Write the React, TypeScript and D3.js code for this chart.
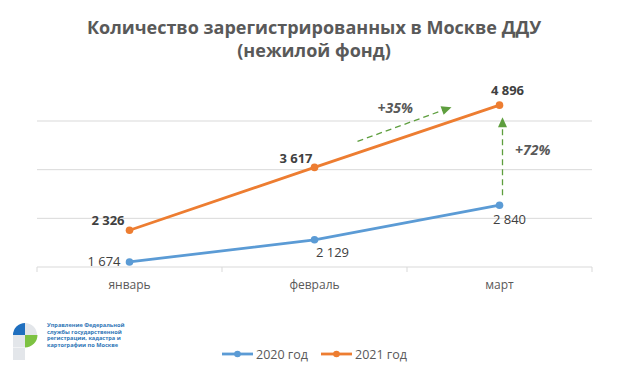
import React from "react";
import * as d3 from "d3";

const categories = ["январь", "февраль", "март"];
const series2020 = [1674, 2129, 2840];
const series2021 = [2326, 3617, 4896];
const seriesNames = ["2020 год", "2021 год"];
const gridValues = [1570, 2570, 3570, 4570];
const growthLabels = ["+35%", "+72%"];
const titleLines = ["Количество зарегистрированных в Москве ДДУ", "(нежилой фонд)"];
const logoLines = [
  "Управление Федеральной",
  "службы государственной",
  "регистрации, кадастра и",
  "картографии по Москве",
];

const W = 625;
const H = 375;
const BLUE = "#5B9BD5";
const ORANGE = "#ED7D31";
const GREEN = "#5E9E3E";
const TEXT = "#595959";
const LABEL = "#404040";
const FONT = "'Open Sans', 'Noto Sans', sans-serif";

export default function App() {
  const x = d3.scaleBand().domain(categories).range([37, 592]);
  const cx = (c: string) => (x(c) as number) + x.bandwidth() / 2;
  const y = d3.scaleLinear().domain([1570, 4570]).range([267, 121]);

  const line = d3
    .line<number>()
    .x((_, i) => cx(categories[i]))
    .y((d) => y(d));

  const tickXs = [...categories.map((c) => x(c) as number), 592];

  const lab2021: [number, number, string][] = [
    [-5, -5, "end"],
    [-2, -4, "end"],
    [8, -10, "middle"],
  ];
  const lab2020: [number, number, string][] = [
    [-9, 4, "end"],
    [18, 17, "middle"],
    [10, 19, "middle"],
  ];

  const a1 = { x1: cx(categories[1]) + 43, y1: y(series2021[1]) - 26, x2: cx(categories[2]) - 48, y2: y(series2021[2]) + 2 };
  const a2 = { x1: cx(categories[2]) + 3, y1: y(series2020[2]) - 10, x2: cx(categories[2]) + 3, y2: y(series2021[2]) + 12 };

  const arrowHead = (x1: number, y1: number, x2: number, y2: number) => {
    const ang = Math.atan2(y2 - y1, x2 - x1);
    const L = 10;
    const w = 4.5;
    const bx = x2 - L * Math.cos(ang);
    const by = y2 - L * Math.sin(ang);
    const px = -Math.sin(ang) * w;
    const py = Math.cos(ang) * w;
    return `M${x2},${y2}L${bx + px},${by + py}L${bx - px},${by - py}Z`;
  };
  const shorten = (x1: number, y1: number, x2: number, y2: number, d: number) => {
    const ang = Math.atan2(y2 - y1, x2 - x1);
    return [x2 - d * Math.cos(ang), y2 - d * Math.sin(ang)];
  };
  const a1e = shorten(a1.x1, a1.y1, a1.x2, a1.y2, 8);
  const a2e = shorten(a2.x1, a2.y1, a2.x2, a2.y2, 8);

  return (
    <svg width={W} height={H} style={{ position: "absolute", left: 0, top: 0, background: "#fff" }} fontFamily={FONT}>
      <rect width={W} height={H} fill="#fff" />
      {titleLines.map((t, i) => (
        <text key={i} x={314} y={34 + i * 23} textAnchor="middle" fontSize={18} fontWeight="bold" fill={TEXT}>
          {t}
        </text>
      ))}
      {gridValues.slice(1).map((v) => (
        <line key={v} x1={37} x2={592} y1={y(v)} y2={y(v)} stroke="#D9D9D9" strokeWidth={1} />
      ))}
      <line x1={37} x2={592} y1={y(gridValues[0])} y2={y(gridValues[0])} stroke="#D9D9D9" strokeWidth={1} />
      {tickXs.map((t, i) => (
        <line key={i} x1={t} x2={t} y1={y(gridValues[0])} y2={y(gridValues[0]) + 5} stroke="#D9D9D9" strokeWidth={1} />
      ))}
      {categories.map((c) => (
        <text key={c} x={cx(c)} y={289} textAnchor="middle" fontSize={12} fill={TEXT}>
          {c}
        </text>
      ))}
      <path d={line(series2020) || ""} fill="none" stroke={BLUE} strokeWidth={2.8} strokeLinecap="round" />
      <path d={line(series2021) || ""} fill="none" stroke={ORANGE} strokeWidth={2.8} strokeLinecap="round" />
      {series2020.map((v, i) => (
        <circle key={"b" + i} cx={cx(categories[i])} cy={y(v)} r={3.8} fill={BLUE} />
      ))}
      {series2021.map((v, i) => (
        <circle key={"o" + i} cx={cx(categories[i])} cy={y(v)} r={3.8} fill={ORANGE} />
      ))}
      {series2021.map((v, i) => (
        <text
          key={"lo" + i}
          x={cx(categories[i]) + lab2021[i][0]}
          y={y(v) + lab2021[i][1]}
          textAnchor={lab2021[i][2] as any}
          fontSize={13}
          fontWeight="bold"
          fill={LABEL}
        >
          {d3.format(",")(v).replace(",", " ")}
        </text>
      ))}
      {series2020.map((v, i) => (
        <text
          key={"lb" + i}
          x={cx(categories[i]) + lab2020[i][0]}
          y={y(v) + lab2020[i][1]}
          textAnchor={lab2020[i][2] as any}
          fontSize={13}
          fill={LABEL}
        >
          {d3.format(",")(v).replace(",", " ")}
        </text>
      ))}
      <line x1={a1.x1} y1={a1.y1} x2={a1e[0]} y2={a1e[1]} stroke={GREEN} strokeWidth={1.3} strokeDasharray="6,4" />
      <path d={arrowHead(a1.x1, a1.y1, a1.x2, a1.y2)} fill={GREEN} />
      <line x1={a2.x1} y1={a2.y1} x2={a2e[0]} y2={a2e[1]} stroke={GREEN} strokeWidth={1.3} strokeDasharray="6,4" />
      <path d={arrowHead(a2.x1, a2.y1, a2.x2, a2.y2)} fill={GREEN} />
      <text x={413} y={113} textAnchor="end" fontSize={14} fontWeight="bold" fontStyle="italic" fill={TEXT}>
        {growthLabels[0]}
      </text>
      <text x={515} y={155} textAnchor="start" fontSize={14} fontWeight="bold" fontStyle="italic" fill={TEXT}>
        {growthLabels[1]}
      </text>
      {seriesNames.map((n, i) => {
        const lx = 222 + i * 99;
        const col = i === 0 ? BLUE : ORANGE;
        return (
          <g key={n}>
            <line x1={lx} x2={lx + 31} y1={354} y2={354} stroke={col} strokeWidth={2.8} />
            <circle cx={lx + 15.5} cy={354} r={3.3} fill={col} />
            <text x={lx + 34} y={358.5} fontSize={12.5} fill={TEXT}>
              {n}
            </text>
          </g>
        );
      })}
      <g>
        <path d="M25,323 A12,12 0 0 0 13,335 L25,335 Z" fill="#1F6FBF" />
        <path d="M25,323 A12,12 0 0 1 37,335 L25,335 Z" fill="#E3E6EA" />
        <rect x={13} y={335} width={12} height={12.5} fill="#E3E6EA" />
        <path d="M25,335 L37.5,335 A12.5,12.5 0 0 1 25,347.5 Z" fill="#7DC242" />
        <rect x={13} y={348} width={12} height={12} fill="#E3E6EA" />
        {logoLines.map((t, i) => (
          <text key={i} x={47} y={327 + i * 6.7} fontSize={5.6} fontWeight="bold" fill="#2E75B6">
            {t}
          </text>
        ))}
      </g>
    </svg>
  );
}
